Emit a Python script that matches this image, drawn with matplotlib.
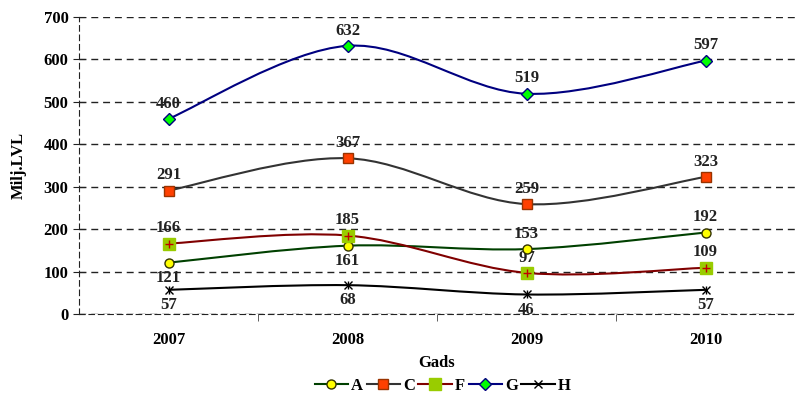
import numpy as np
import matplotlib.pyplot as plt
from matplotlib.path import Path
from matplotlib.patches import PathPatch
from matplotlib.lines import Line2D

years = ['2007', '2008', '2009', '2010']
A = [121, 161, 153, 192]
C = [291, 367, 259, 323]
F = [166, 185, 97, 109]
G = [460, 632, 519, 597]
H = [57, 68, 46, 57]

plt.rcParams['font.family'] = ['Liberation Serif', 'DejaVu Serif']
plt.rcParams['font.weight'] = 'bold'


def smooth_path(x, y):
    # bezier smoothing like the spreadsheet "smoothed line" option
    p = np.column_stack([x, y]).astype(float)
    n = len(p)
    verts = [p[0]]
    codes = [Path.MOVETO]
    for i in range(n - 1):
        p0 = p[max(i - 1, 0)]
        p1 = p[i]
        p2 = p[i + 1]
        p3 = p[min(i + 2, n - 1)]
        c1 = p1 + (p2 - p0) / 6
        c2 = p2 - (p3 - p1) / 6
        verts += [c1, c2, p2]
        codes += [Path.CURVE4] * 3
    return Path(verts, codes)


series = [
    ('A', A, '#004000', dict(marker='o', mfc='#FFFF00', mec='#333300', ms=6.5), 'below'),
    ('C', C, '#333333', dict(marker='s', mfc='#FF4000', mec='#993300', ms=6.5), 'above'),
    ('F', F, '#800000', dict(marker='s', mfc='#99CC00', mec='#99CC00', ms=8), 'above'),
    ('G', G, '#000080', dict(marker='D', mfc='#00FF00', mec='#000080', ms=6), 'above'),
    ('H', H, '#000000', dict(marker='x', mfc='none', mec='#000000', ms=6, mew=1.0), 'below'),
]
label_side_A = ['below', 'below', 'above', 'above']

fig = plt.figure(figsize=(7.95, 3.94), dpi=100)
ax = fig.add_axes([0.0994, 0.203, 0.9006, 0.754])

fs = 12
x = np.arange(1, 5)
handles = []
for name, vals, col, mk, side in series:
    ax.add_patch(PathPatch(smooth_path(x, vals), fill=False, edgecolor=col, lw=1.5, zorder=3))
    ax.plot(x, vals, ls='none', zorder=4, **mk)
    if name == 'F':
        ax.plot(x, vals, ls='none', marker='+', color='#C00000', ms=6, mew=1.0, zorder=5)
    if name == 'H':
        ax.plot(x, vals, ls='none', marker='|', color='#000000', ms=6, mew=1.0, zorder=5)
    sides = label_side_A if name == 'A' else [side] * 4
    for xi, v, s in zip(x, vals, sides):
        dy = 11 if s == 'above' else -11
        ax.annotate(str(v), (xi, v), xytext=(0, dy), textcoords='offset points',
                    ha='center', va='center', fontsize=fs, fontweight='bold', color='#222222')
    handles.append(Line2D([], [], color=col, lw=1.5, **mk))

ax.set_xlim(0.5, 4.5)
ax.set_ylim(0, 700)
ax.set_yticks(range(0, 701, 100))
ax.set_xticks(x)
ax.set_xticklabels(years)
ax.set_xticks([1.5, 2.5, 3.5], minor=True)
ax.tick_params(axis='x', which='major', length=0, pad=13, labelsize=fs)
ax.tick_params(axis='x', which='minor', length=5, direction='out', color='#444444')
ax.tick_params(axis='y', direction='inout', length=9, labelsize=fs, pad=3, color='#222222')

ax.yaxis.grid(True, ls=(0, (5, 3.5)), color='#222222', lw=1.0)
for side in ['top', 'right']:
    ax.spines[side].set_visible(False)
for side in ['left', 'bottom']:
    ax.spines[side].set_linestyle((0, (5, 3.5)))
    ax.spines[side].set_color('#222222')

ax.set_xlabel('Gads', fontsize=fs, fontweight='bold', labelpad=5)
ax.set_ylabel('Milj.LVL', fontsize=fs, fontweight='bold', labelpad=12)

fig.legend(handles, ['A', 'C', 'F', 'G', 'H'], loc='center', bbox_to_anchor=(0.557, 0.02),
           ncol=5, frameon=False, fontsize=fs, handlelength=2.0, handletextpad=0.2,
           columnspacing=0.2)

fig.savefig('out.png', dpi=100)
